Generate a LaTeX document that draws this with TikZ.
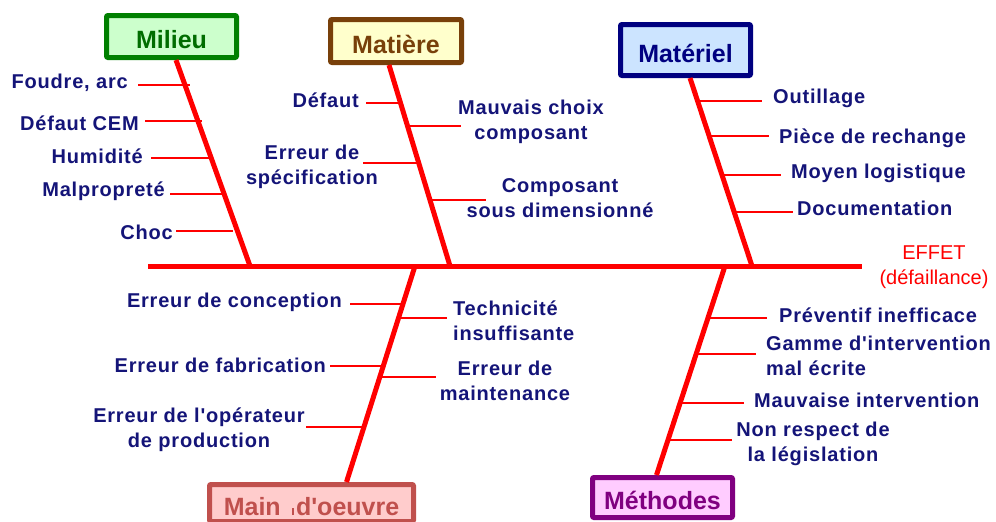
\documentclass[tikz,border=0pt]{standalone}
\usepackage{fontspec}
\usepackage{tikz}

\newfontfamily\labfont{Liberation Sans}[LetterSpace=4]
\newfontfamily\titfont{Liberation Sans}
\newcommand\lblfont{\fontsize{20}{25}\selectfont\labfont\bfseries}
\newcommand\titlefont{\fontsize{25}{30}\selectfont\titfont\bfseries}
\newcommand\effetfont{\fontsize{20}{25}\selectfont\titfont}

\definecolor{navy}{RGB}{20,20,120}
\definecolor{fishred}{RGB}{255,0,0}
\definecolor{milieuD}{RGB}{0,128,0}
\definecolor{milieuF}{RGB}{204,255,204}
\definecolor{matiereD}{RGB}{120,64,10}
\definecolor{matiereF}{RGB}{255,255,204}
\definecolor{materielD}{RGB}{0,0,128}
\definecolor{materielF}{RGB}{204,228,255}
\definecolor{mainD}{RGB}{192,80,77}
\definecolor{mainF}{RGB}{255,204,204}
\definecolor{methD}{RGB}{128,0,128}
\definecolor{methF}{RGB}{255,204,255}

\begin{document}
\begin{tikzpicture}[line cap=round,line join=round,x=1pt,y=-1pt,
  title/.style={draw,line width=5pt,rounded corners=1pt,font=\titlefont,
    text height=24pt,text depth=0pt,inner sep=2pt},
  lbl/.style={font=\lblfont,text=navy,inner sep=0pt},
  bone/.style={fishred,line width=5pt,line cap=butt},
  twig/.style={fishred,line width=1.2pt,line cap=butt}]
\useasboundingbox (0,0) rectangle (996,522);
\clip (0,0) rectangle (996,522);

\node[title,draw=milieuD,fill=milieuF,text=milieuD!85!black,minimum width=130pt,minimum height=42pt] (milieu) at (171.5,36.5) {Milieu};
\node[title,draw=matiereD,fill=matiereF,text=matiereD,minimum width=131pt,minimum height=43pt] (matiere) at (396,41) {Matière};
\node[title,draw=materielD,fill=materielF,text=materielD,minimum width=130pt,minimum height=51pt] (materiel) at (685.5,50) {Matériel};
\node[title,draw=mainD,fill=mainF,text=mainD,minimum width=204pt,minimum height=37pt,anchor=north] (mainoe) at (311.5,482) {Main\hspace{0.45em}\rule{2pt}{7pt}\hspace{2pt}d'oeuvre};
\node[title,draw=methD,fill=methF,text=methD,minimum width=140pt,minimum height=40pt] (methodes) at (662.5,497.5) {Méthodes};

\coordinate (spL) at (148,266);
\coordinate (spR) at (862,266);
\coordinate (s1) at (250,266);
\coordinate (s2) at (450,266);
\coordinate (s3) at (752,266);
\coordinate (s4) at (415,266);
\coordinate (s5) at (725,266);

\foreach \n/\xa/\xb/\y in {mi1/138/190/85,mi2/145/202/121,mi3/151/210/158,mi4/170/222/194,mi5/176/233/231,
  ma1/366/402/103,ma2/409/461/126,ma3/363/420/163,ma4/431/486/200,
  mt1/699/762/101,mt2/710/769/136,mt3/723/781/175,mt4/735/793/212,
  mo1/350/404/304,mo2/330/384/366,mo3/306/364/427,mo4/398/447/318,mo5/378/436/377,
  me1/708/767/318,me2/696/756/354,me3/680/744/403,me4/668/732/440}
{
  \coordinate (\n a) at (\xa,\y);
  \coordinate (\n b) at (\xb,\y);
  \draw[twig] (\n a) -- (\n b);
}

\draw[bone] (spL) -- (spR);
\draw[bone] ([xshift=4.5pt]milieu.south) -- (s1);
\draw[bone] ([xshift=-7pt]matiere.south) -- (s2);
\draw[bone] ([xshift=4.5pt]materiel.south) -- (s3);
\draw[bone] (s4) -- ([xshift=35pt]mainoe.north);
\draw[bone] (s5) -- ([xshift=-6pt]methodes.north);

\node[lbl,anchor=base east] (foudre) at (128,88) {Foudre, arc};
\node[lbl,anchor=base east] (cem) at (139,130) {Défaut CEM};
\node[lbl,anchor=base east] (humid) at (143,163) {Humidité};
\node[lbl,anchor=base east] (malp) at (165,196) {Malpropreté};
\node[lbl,anchor=base east] (choc) at (173,239) {Choc};

\node[lbl,anchor=base east] (defaut) at (359,107) {Défaut};
\node[lbl,anchor=north,align=center] (choix) at (531,100) {Mauvais choix\\composant};
\node[lbl,anchor=north,align=center] (spec) at (312,144.5) {Erreur de\\spécification};
\node[lbl,anchor=north,align=center] (sousdim) at (560,178.5) {Composant\\sous dimensionné};

\node[lbl,anchor=base west] (outil) at (773,103) {Outillage};
\node[lbl,anchor=base west] (piece) at (779,143) {Pièce de rechange};
\node[lbl,anchor=base west] (moyen) at (791,178) {Moyen logistique};
\node[lbl,anchor=base west] (doc) at (797,215) {Documentation};

\node[font=\effetfont,text=fishred,inner sep=0pt,anchor=north,align=center] (effet) at (934,245.5) {EFFET\\(défaillance)};

\node[lbl,anchor=base east] (concep) at (342,307) {Erreur de conception};
\node[lbl,anchor=base east] (fabric) at (326,372) {Erreur de fabrication};
\node[lbl,anchor=north,align=center] (operat) at (199,407.5) {Erreur de l'opérateur\\de production};
\node[lbl,anchor=north west,align=left] (techn) at (453,300.5) {Technicité\\insuffisante};
\node[lbl,anchor=north,align=center] (maint) at (505,360.5) {Erreur de\\maintenance};

\node[lbl,anchor=base west] (prev) at (779,322) {Préventif inefficace};
\node[lbl,anchor=north west,align=left] (gamme) at (766,335.5) {Gamme d'intervention\\mal écrite};
\node[lbl,anchor=base west] (mauv) at (754,407) {Mauvaise intervention};
\node[lbl,anchor=north,align=center] (legis) at (813,421.5) {Non respect de\\la législation};
\end{tikzpicture}
\end{document}
